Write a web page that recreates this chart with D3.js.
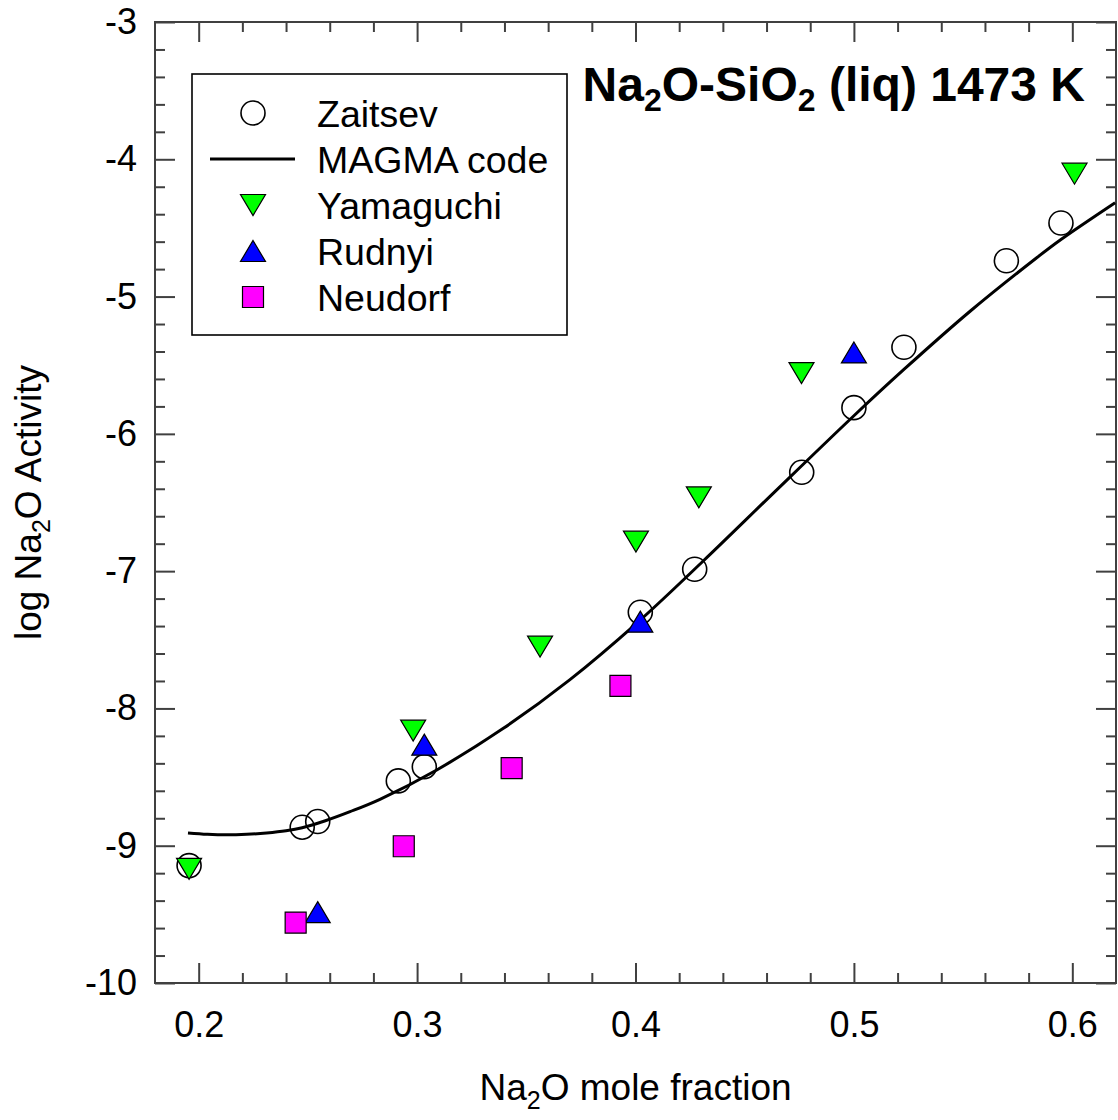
<!DOCTYPE html>
<html>
<head>
<meta charset="utf-8">
<script src="https://cdn.jsdelivr.net/npm/d3@7"></script>
<style>
  html, body { margin: 0; padding: 0; background: #fff; }
  svg { display: block; font-family: "Liberation Sans", Arial, sans-serif; }
</style>
</head>
<body>
<svg id="chart" width="1118" height="1120"></svg>
<script>
// Na2O activity in Na2O-SiO2 melts at 1473 K
const zaitsevX = [0.1956, 0.2474, 0.2545, 0.2914, 0.3033, 0.4022, 0.4271, 0.4761, 0.5000, 0.5229, 0.5698, 0.5948];
const zaitsevY = [-9.145, -8.865, -8.824, -8.528, -8.424, -7.299, -6.986, -6.280, -5.809, -5.369, -4.739, -4.464];

const yamaguchiX = [0.1956, 0.2982, 0.3563, 0.4002, 0.4290, 0.4760, 0.6010];
const yamaguchiY = [-9.169, -8.162, -7.550, -6.785, -6.463, -5.558, -4.105];

const rudnyiX = [0.2545, 0.3033, 0.4022, 0.5000];
const rudnyiY = [-9.484, -8.264, -7.368, -5.407];

const neudorfX = [0.2444, 0.2939, 0.3433, 0.3931];
const neudorfY = [-9.560, -9.004, -8.435, -7.836];

// MAGMA code model curve
const magmaX = [0.1951, 0.2040, 0.2128, 0.2220, 0.2311, 0.2400, 0.2474, 0.2580, 0.2693, 0.2830, 0.3090, 0.3395, 0.3700, 0.4005, 0.4310, 0.4616, 0.5000, 0.5229, 0.5532, 0.5837, 0.5948, 0.6196];
const magmaY = [-8.907, -8.917, -8.921, -8.917, -8.907, -8.891, -8.869, -8.818, -8.752, -8.662, -8.448, -8.145, -7.790, -7.380, -6.926, -6.455, -5.868, -5.531, -5.107, -4.717, -4.584, -4.316];

const xTicks = [0.2, 0.3, 0.4, 0.5, 0.6];
const yTicks = [-3, -4, -5, -6, -7, -8, -9, -10];
const xMinor = d3.range(11, 31).map(i => i * 0.02).filter(v => Math.abs(v * 10 - Math.round(v * 10)) > 1e-6);
const yMinor = d3.range(-50, -14).map(i => i * 0.2).filter(v => Math.abs(v - Math.round(v)) > 1e-6);

const legendLabels = ["Zaitsev", "MAGMA code", "Yamaguchi", "Rudnyi", "Neudorf"];

const zip = (xs, ys) => xs.map((x, i) => ({ x, y: ys[i] }));

const svg = d3.select("#chart");
const L = 155, R = 1116, T = 22, B = 983;
const AXIS = "#404040";

const x = d3.scaleLinear().domain([0.18, 0.62]).range([L, R]);
const y = d3.scaleLinear().domain([-10, -3]).range([B, T]);

// marker shapes
const MW = 25, MH = 21, SQ = 21, CR = 12;
const downTri = `M${-MW/2},${-MH/2}L${MW/2},${-MH/2}L0,${MH/2}Z`;
const upTri = `M0,${-MH/2}L${MW/2},${MH/2}L${-MW/2},${MH/2}Z`;
const square = `M${-SQ/2},${-SQ/2}h${SQ}v${SQ}h${-SQ}Z`;

// axes: ticks point inward on all four sides
function styleAxis(g) {
  g.select(".domain").remove();
  g.selectAll(".tick line").attr("stroke", AXIS).attr("stroke-width", 2);
  g.selectAll(".tick text").attr("fill", "#000").attr("font-size", 36)
    .attr("font-family", "'Liberation Sans', Arial, sans-serif");
}
const fmt = d => String(+d.toFixed(2));

svg.append("g").attr("transform", `translate(0,${B})`)
  .call(d3.axisBottom(x).tickValues(xTicks).tickSize(-20).tickPadding(28).tickFormat(fmt)).call(styleAxis);
svg.append("g").attr("transform", `translate(0,${B})`)
  .call(d3.axisBottom(x).tickValues(xMinor).tickSize(-10).tickFormat("")).call(styleAxis);
svg.append("g").attr("transform", `translate(0,${T})`)
  .call(d3.axisTop(x).tickValues(xTicks).tickSize(-20).tickFormat("")).call(styleAxis);
svg.append("g").attr("transform", `translate(0,${T})`)
  .call(d3.axisTop(x).tickValues(xMinor).tickSize(-10).tickFormat("")).call(styleAxis);

svg.append("g").attr("transform", `translate(${L},0)`)
  .call(d3.axisLeft(y).tickValues(yTicks).tickSize(-20).tickPadding(18).tickFormat(fmt)).call(styleAxis);
svg.append("g").attr("transform", `translate(${L},0)`)
  .call(d3.axisLeft(y).tickValues(yMinor).tickSize(-10).tickFormat("")).call(styleAxis);
svg.append("g").attr("transform", `translate(${R},0)`)
  .call(d3.axisRight(y).tickValues(yTicks).tickSize(-20).tickFormat("")).call(styleAxis);
svg.append("g").attr("transform", `translate(${R},0)`)
  .call(d3.axisRight(y).tickValues(yMinor).tickSize(-10).tickFormat("")).call(styleAxis);

// plot frame
svg.append("rect").attr("x", L).attr("y", T).attr("width", R - L).attr("height", B - T)
  .attr("fill", "none").attr("stroke", AXIS).attr("stroke-width", 2);

// axis titles
const xt = svg.append("text").attr("x", (L + R) / 2).attr("y", 1100)
  .attr("text-anchor", "middle").attr("font-size", 37).attr("fill", "#000");
xt.append("tspan").text("Na");
xt.append("tspan").attr("font-size", 25).attr("dy", 9).text("2");
xt.append("tspan").attr("dy", -9).text("O mole fraction");

const yt = svg.append("text").attr("transform", `translate(41,${(T + B) / 2}) rotate(-90)`)
  .attr("text-anchor", "middle").attr("font-size", 37).attr("fill", "#000");
yt.append("tspan").text("log Na");
yt.append("tspan").attr("font-size", 25).attr("dy", 9).text("2");
yt.append("tspan").attr("dy", -9).text("O Activity");

// chart title
const tt = svg.append("text").attr("x", 1085).attr("y", 101).attr("text-anchor", "end")
  .attr("font-size", 48).attr("font-weight", "bold").attr("fill", "#000");
tt.append("tspan").text("Na");
tt.append("tspan").attr("font-size", 32).attr("dy", 10).text("2");
tt.append("tspan").attr("dy", -10).text("O-SiO");
tt.append("tspan").attr("font-size", 32).attr("dy", 10).text("2");
tt.append("tspan").attr("dy", -10).text(" (liq) 1473 K");

// data
const plot = svg.append("g");

plot.selectAll("circle.zaitsev").data(zip(zaitsevX, zaitsevY)).join("circle")
  .attr("class", "zaitsev")
  .attr("cx", d => x(d.x)).attr("cy", d => y(d.y)).attr("r", CR)
  .attr("fill", "none").attr("stroke", "#000").attr("stroke-width", 1.6);

const line = d3.line().x(d => x(d.x)).y(d => y(d.y)).curve(d3.curveCatmullRom.alpha(0.5));
plot.append("path").datum(zip(magmaX, magmaY)).attr("d", line)
  .attr("fill", "none").attr("stroke", "#000").attr("stroke-width", 3);

function markers(data, shape, color, cls) {
  plot.selectAll("path." + cls).data(data).join("path")
    .attr("class", cls)
    .attr("d", shape)
    .attr("transform", d => `translate(${x(d.x)},${y(d.y)})`)
    .attr("fill", color).attr("stroke", "#000").attr("stroke-width", 1.2)
    .attr("stroke-linejoin", "miter");
}
markers(zip(yamaguchiX, yamaguchiY), downTri, "#00ff00", "yamaguchi");
markers(zip(rudnyiX, rudnyiY), upTri, "#0000ff", "rudnyi");
markers(zip(neudorfX, neudorfY), square, "#ff00ff", "neudorf");

// legend
const lg = svg.append("g");
lg.append("rect").attr("x", 192).attr("y", 74).attr("width", 375).attr("height", 261)
  .attr("fill", "#fff").attr("stroke", "#000").attr("stroke-width", 1.6);
const rowY = i => 113 + i * 46;
const mx = 253;
lg.append("circle").attr("cx", mx).attr("cy", rowY(0)).attr("r", CR)
  .attr("fill", "none").attr("stroke", "#000").attr("stroke-width", 1.6);
lg.append("line").attr("x1", 210).attr("x2", 295).attr("y1", rowY(1)).attr("y2", rowY(1))
  .attr("stroke", "#000").attr("stroke-width", 3);
lg.append("path").attr("d", downTri).attr("transform", `translate(${mx},${rowY(2)})`)
  .attr("fill", "#00ff00").attr("stroke", "#000").attr("stroke-width", 1.2);
lg.append("path").attr("d", upTri).attr("transform", `translate(${mx},${rowY(3)})`)
  .attr("fill", "#0000ff").attr("stroke", "#000").attr("stroke-width", 1.2);
lg.append("path").attr("d", square).attr("transform", `translate(${mx},${rowY(4)})`)
  .attr("fill", "#ff00ff").attr("stroke", "#000").attr("stroke-width", 1.2);
lg.selectAll("text").data(legendLabels).join("text")
  .attr("x", 317).attr("y", (d, i) => rowY(i) + 14)
  .attr("font-size", 37.5).attr("fill", "#000").text(d => d);
</script>
</body>
</html>
